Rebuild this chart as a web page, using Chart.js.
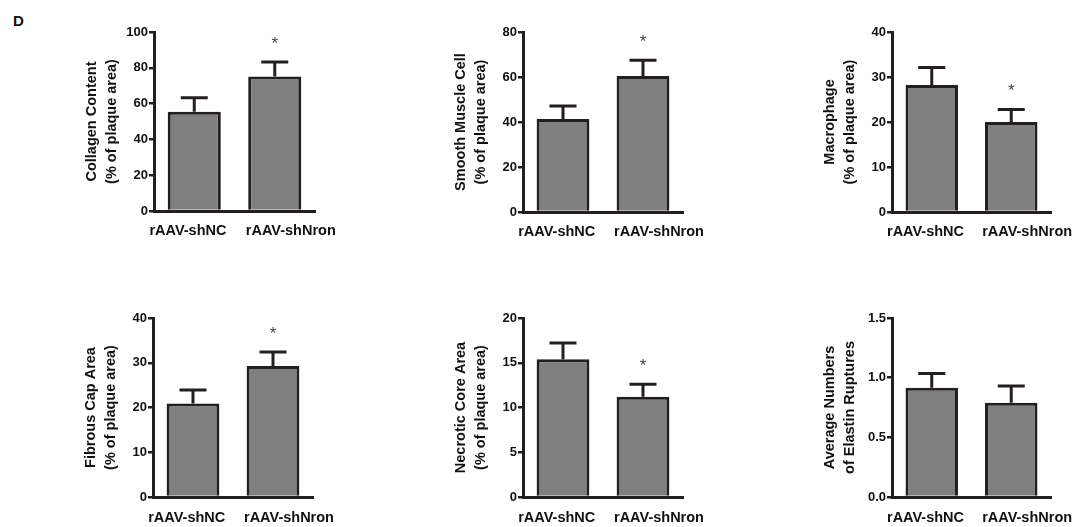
<!DOCTYPE html>
<html>
<head>
<meta charset="utf-8">
<script src="https://cdn.jsdelivr.net/npm/chart.js@4.4.0/dist/chart.umd.min.js"></script>
<style>
  body { margin: 0; background: #fff; width: 1078px; height: 527px; position: relative; overflow: hidden; }
  canvas { position: absolute; }
  #tag { position: absolute; left: 13px; top: 12px; font: bold 15px "Liberation Sans", Arial, sans-serif; color: #111; }
</style>
</head>
<body>
<div id="tag">D</div>
<canvas id="c1"></canvas>
<canvas id="c2"></canvas>
<canvas id="c3"></canvas>
<canvas id="c4"></canvas>
<canvas id="c5"></canvas>
<canvas id="c6"></canvas>
<script>
// groups
const GROUPS = ["rAAV-shNC", "rAAV-shNron"];

// means and error (top whisker) for each panel
const COLLAGEN_MEAN = [55.5, 75.2];
const COLLAGEN_ERR = [7.7, 8.0];
const SMC_MEAN = [41.3, 60.4];
const SMC_ERR = [5.8, 7.1];
const MACRO_MEAN = [28.2, 20.0];
const MACRO_ERR = [3.9, 2.8];
const FIBROUS_MEAN = [20.9, 29.3];
const FIBROUS_ERR = [3.0, 3.1];
const NECROTIC_MEAN = [15.4, 11.2];
const NECROTIC_ERR = [1.8, 1.4];
const ELASTIN_MEAN = [0.915, 0.79];
const ELASTIN_ERR = [0.12, 0.14];

// significance marks (*)
const COLLAGEN_SIG = [false, true];
const SMC_SIG = [false, true];
const MACRO_SIG = [false, true];
const FIBROUS_SIG = [false, true];
const NECROTIC_SIG = [false, true];
const ELASTIN_SIG = [false, false];

// axis ranges
const Y_MAX = [100, 80, 40, 40, 20, 1.5];
const Y_STEP = [20, 20, 10, 10, 5, 0.5];

const TITLES = [
    ["Collagen Content", "(% of plaque area)"],
    ["Smooth Muscle Cell", "(% of plaque area)"],
    ["Macrophage", "(% of plaque area)"],
    ["Fibrous Cap Area", "(% of plaque area)"],
    ["Necrotic Core Area", "(% of plaque area)"],
    ["Average Numbers", "of Elastin Ruptures"]
];

const INK = "#231f1e";
const FONT = "'Liberation Sans', Arial, sans-serif";

// plot boxes on the page: left, top, right, bottom
const BOXES = [
    [154, 32, 315, 211],
    [523, 32, 683, 212],
    [892, 32, 1051, 212],
    [153, 318, 313, 497],
    [523, 318, 683, 497],
    [892, 318, 1051, 497]
];

const PANELS = [
    { id: "c1", mean: COLLAGEN_MEAN, err: COLLAGEN_ERR, sig: COLLAGEN_SIG, dec: 0 },
    { id: "c2", mean: SMC_MEAN, err: SMC_ERR, sig: SMC_SIG, dec: 0 },
    { id: "c3", mean: MACRO_MEAN, err: MACRO_ERR, sig: MACRO_SIG, dec: 0 },
    { id: "c4", mean: FIBROUS_MEAN, err: FIBROUS_ERR, sig: FIBROUS_SIG, dec: 0 },
    { id: "c5", mean: NECROTIC_MEAN, err: NECROTIC_ERR, sig: NECROTIC_SIG, dec: 0 },
    { id: "c6", mean: ELASTIN_MEAN, err: ELASTIN_ERR, sig: ELASTIN_SIG, dec: 1 }
];

const LEFT_W = 80, PAD_T = 20, PAD_R = 50, BOTTOM_H = 40;

// error bars + asterisks
const errorBars = {
    id: "errorBars",
    afterDatasetsDraw(chart, args, opts) {
        const ctx = chart.ctx;
        const y = chart.scales.y;
        const meta = chart.getDatasetMeta(0);
        ctx.save();
        ctx.strokeStyle = INK;
        ctx.lineWidth = 3;
        meta.data.forEach((bar, i) => {
            const top = y.getPixelForValue(opts.mean[i] + opts.err[i]);
            ctx.beginPath();
            ctx.moveTo(bar.x, bar.y);
            ctx.lineTo(bar.x, top);
            ctx.moveTo(bar.x - 13.5, top);
            ctx.lineTo(bar.x + 13.5, top);
            ctx.stroke();
            if (opts.sig[i]) {
                ctx.fillStyle = "#444";
                ctx.font = "17px " + FONT;
                ctx.textAlign = "center";
                ctx.textBaseline = "middle";
                ctx.fillText("*", bar.x, top - 18);
            }
        });
        ctx.restore();
    }
};

PANELS.forEach((p, k) => {
    const [l, t, r, b] = BOXES[k];
    const cv = document.getElementById(p.id);
    cv.width = (r - l) + LEFT_W + PAD_R;
    cv.height = (b - t) + PAD_T + BOTTOM_H;
    cv.style.left = (l - LEFT_W) + "px";
    cv.style.top = (t - PAD_T) + "px";

    new Chart(cv, {
        type: "bar",
        data: {
            labels: GROUPS,
            datasets: [{
                data: p.mean,
                backgroundColor: "#7f7f7f",
                borderColor: INK,
                borderWidth: 3,
                barPercentage: 0.66,
                categoryPercentage: 1
            }]
        },
        options: {
            responsive: false,
            animation: false,
            layout: { padding: { top: PAD_T, right: PAD_R, left: 0, bottom: 0 } },
            plugins: {
                legend: { display: false },
                tooltip: { enabled: false },
                errorBars: { mean: p.mean, err: p.err, sig: p.sig }
            },
            scales: {
                // axis carrying the bars (line only)
                x: {
                    weight: 0,
                    grid: { display: false, drawTicks: false },
                    border: { color: INK, width: 3 },
                    ticks: { display: false },
                    afterFit(s) { s.height = 0; }
                },
                // group names, spread a bit wider than the bars as in the figure
                xl: {
                    type: "linear",
                    position: "bottom",
                    weight: 1,
                    offset: false,
                    bounds: "data",
                    min: -0.33,
                    max: 1.235,
                    grid: { display: false, drawTicks: false, offset: false },
                    border: { display: false },
                    afterBuildTicks(s) { s.ticks = GROUPS.map((g, i) => ({ value: i })); },
                    ticks: {
                        color: "#111",
                        padding: k < 3 ? 11 : 12,
                        maxRotation: 0,
                        minRotation: 0,
                        autoSkip: false,
                        font: { family: FONT, size: 14.5, weight: "bold" },
                        callback: v => GROUPS[v]
                    },
                    afterFit(s) { s.height = BOTTOM_H; }
                },
                y: {
                    min: 0,
                    max: Y_MAX[k],
                    grid: { drawOnChartArea: false, drawTicks: true, tickLength: 5, color: INK, lineWidth: 2.5 },
                    border: { color: INK, width: 3 },
                    ticks: {
                        stepSize: Y_STEP[k],
                        padding: 1,
                        color: "#111",
                        font: { family: FONT, size: 13, weight: "bold" },
                        callback: v => v.toFixed(p.dec)
                    },
                    title: {
                        display: true,
                        text: TITLES[k],
                        color: "#111",
                        padding: { top: 8, bottom: 0 },
                        font: { family: FONT, size: 14.5, weight: "bold", lineHeight: 1.38 }
                    },
                    afterFit(s) { s.width = LEFT_W; }
                }
            }
        },
        plugins: [errorBars]
    });
});
</script>
</body>
</html>
